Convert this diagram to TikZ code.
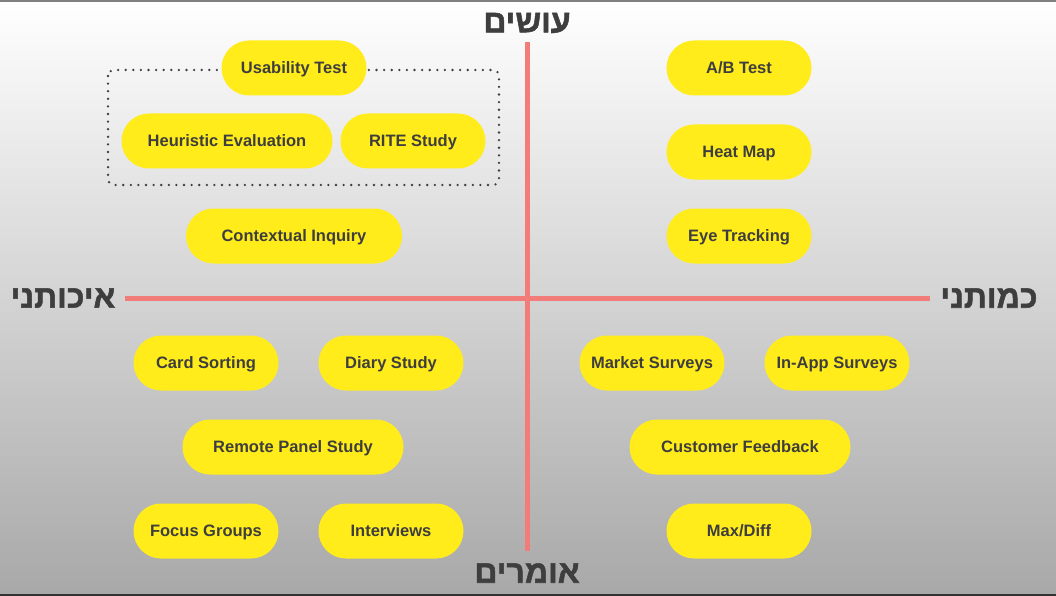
\documentclass[tikz,border=0pt]{standalone}
\usepackage{fontspec}
\setmainfont{Liberation Sans}
\newfontfamily\hebfont[Script=Hebrew, BoldFeatures={FakeBold=1.6}]{Liberation Sans}
\TeXXeTstate=1
\usetikzlibrary{positioning}
\definecolor{PillYellow}{RGB}{255,236,26}
\definecolor{LabelGray}{RGB}{62,62,62}
\definecolor{AxisRed}{RGB}{242,124,122}
\definecolor{ShadeLow}{RGB}{168,168,168}
\definecolor{ShadeMid}{RGB}{214,214,214}

\begin{document}
\begin{tikzpicture}[
    x=1pt, y=-1pt,
    pill/.style={
      fill=PillYellow,
      rounded corners=27.5pt,
      minimum height=55pt,
      minimum width=145pt,
      font=\fontsize{16.5}{19}\selectfont\bfseries,
      text=LabelGray,
      text height=11.8pt,
      text depth=0pt,
      inner sep=0pt
    },
    widepill/.style={pill, minimum width=218pt},
    axislabel/.style={
      font=\hebfont\fontsize{32}{36}\selectfont\bfseries,
      text=LabelGray,
      inner sep=0pt
    },
    axisline/.style={AxisRed, line width=5pt},
    groupbox/.style={
      draw=LabelGray,
      line width=2.6pt,
      dash pattern=on 0pt off 7.6pt,
      line cap=round,
      rounded corners=6pt
    }
  ]
    \useasboundingbox (0,0) rectangle (1056,596);
    \fill[top color=white, middle color=ShadeMid, bottom color=ShadeLow]
      (0,0) rectangle (1056,596);
    \draw[line width=2pt, gray] (0,1) -- (1056,1);
    \draw[line width=2pt, black!80] (0,595) -- (1056,595);

    % axes
    \coordinate (axis-top) at (527,42);
    \coordinate (axis-bottom) at (527,551);
    \coordinate (axis-left) at (125,298);
    \coordinate (axis-right) at (930,298);
    \draw[axisline] (axis-top) -- (axis-bottom);
    \draw[axisline] (axis-left) -- (axis-right);

    \node[axislabel] (label-do) at (527,23) {\beginR עושים\endR};
    \node[axislabel] (label-say) at (527,573) {\beginR אומרים\endR};
    \node[axislabel] (label-quali) at (63,298) {\beginR איכותני\endR};
    \node[axislabel] (label-quanti) at (989,298) {\beginR כמותני\endR};

    % grouped methods
    \draw[groupbox] (108,70) rectangle (499,185);

    \node[pill] (usability) at (294,68) {Usability Test};
    \node[pill, minimum width=211pt] (heuristic) at (227,141) {Heuristic Evaluation};
    \node[pill] (rite) at (413,141) {RITE Study};
    \node[widepill, minimum width=216pt] (contextual) at (294,236) {Contextual Inquiry};

    \node[pill] (ab-test) at (739,68) {A/B Test};
    \node[pill] (heat-map) at (739,152) {Heat Map};
    \node[pill] (eye-tracking) at (739,236) {Eye Tracking};

    \node[pill] (card-sorting) at (206,363) {Card Sorting};
    \node[pill] (diary) at (391,363) {Diary Study};
    \node[widepill, minimum width=221pt] (remote-panel) at (293,447) {Remote Panel Study};
    \node[pill] (focus-groups) at (206,531) {Focus Groups};
    \node[pill] (interviews) at (391,531) {Interviews};

    \node[pill] (market-surveys) at (652,363) {Market Surveys};
    \node[pill] (in-app) at (837,363) {In-App Surveys};
    \node[widepill, minimum width=221pt] (feedback) at (740,447) {Customer Feedback};
    \node[pill] (max-diff) at (739,531) {Max/Diff};
  \end{tikzpicture}
\end{document}
